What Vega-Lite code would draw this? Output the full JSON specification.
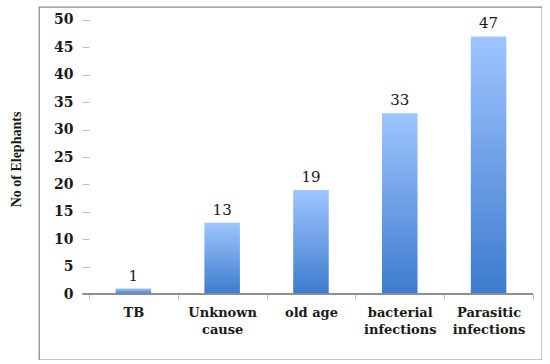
{
  "$schema": "https://vega.github.io/schema/vega-lite/v6.json",
  "width": 503,
  "height": 353,
  "autosize": "none",
  "padding": {"left": 39, "top": 7, "right": 0, "bottom": 0},
  "background": "white",
  "config": {
    "view": {"stroke": "#8c8c8c", "strokeWidth": 1.3},
    "font": "'DejaVu Serif', serif"
  },
  "data": {
    "values": [
      {"cause": "TB", "count": 1},
      {"cause": "Unknown cause", "count": 13},
      {"cause": "old age", "count": 19},
      {"cause": "bacterial infections", "count": 33},
      {"cause": "Parasitic infections", "count": 47}
    ]
  },
  "encoding": {
    "x": {
      "field": "cause",
      "type": "nominal",
      "sort": null,
      "scale": {"domain": ["TB", "Unknown cause", "old age", "bacterial infections", "Parasitic infections"], "paddingInner": 0, "paddingOuter": 0.332, "align": 0.847},
      "axis": {
        "title": null,
        "offset": -66,
        "domain": false,
        "labelAngle": 0,
        "labelFont": "'DejaVu Serif', serif",
        "labelFontWeight": "bold",
        "labelFontSize": 13,
        "labelColor": "#1a1a1a",
        "labelLineHeight": 17,
        "labelPadding": 7,
        "tickSize": 5,
        "tickColor": "#bfbfbf",
        "tickBand": "extent",
        "labelExpr": "!isString(datum.value) ? '' : (datum.value == 'TB' || datum.value == 'old age' ? datum.value : split(datum.value, ' '))"
      }
    },
    "y": {
      "field": "count",
      "type": "quantitative",
      "scale": {"domain": [-12.04, 52.37], "nice": false, "zero": false},
      "axis": {
        "title": "No of Elephants",
        "titleFont": "'Liberation Serif', serif",
        "titleFontSize": 14,
        "titleFontWeight": "bold",
        "titleColor": "#1a1a1a",
        "titlePadding": 30,
        "titleY": 152,
        "offset": -50,
        "domain": false,
        "grid": false,
        "values": [0, 5, 10, 15, 20, 25, 30, 35, 40, 45, 50],
        "labelFont": "'DejaVu Serif', serif",
        "labelFontWeight": "bold",
        "labelFontSize": 14,
        "labelColor": "#1a1a1a",
        "labelPadding": 9,
        "tickSize": 7,
        "tickColor": "#bfbfbf"
      }
    }
  },
  "layer": [
    {
      "mark": {
        "type": "bar",
        "width": {"band": 0.4},
        "color": {
          "gradient": "linear",
          "x1": 0, "y1": 0, "x2": 0, "y2": 1,
          "stops": [
            {"offset": 0, "color": "#9ec5ff"},
            {"offset": 1, "color": "#3d7bcd"}
          ]
        }
      },
      "encoding": {
        "y2": {"datum": 0}
      }
    },
    {
      "mark": {"type": "rule", "color": "#8c8c8c", "strokeWidth": 1.2},
      "encoding": {
        "x": {"datum": "TB", "bandPosition": -0.07},
        "x2": {"datum": "Parasitic infections", "bandPosition": 1},
        "y": {"datum": 0}
      }
    },
    {
      "mark": {"type": "text", "baseline": "alphabetic", "dy": -8, "fontSize": 15, "font": "'DejaVu Serif', serif", "color": "#1a1a1a"},
      "encoding": {
        "text": {"field": "count", "type": "quantitative"}
      }
    }
  ]
}
